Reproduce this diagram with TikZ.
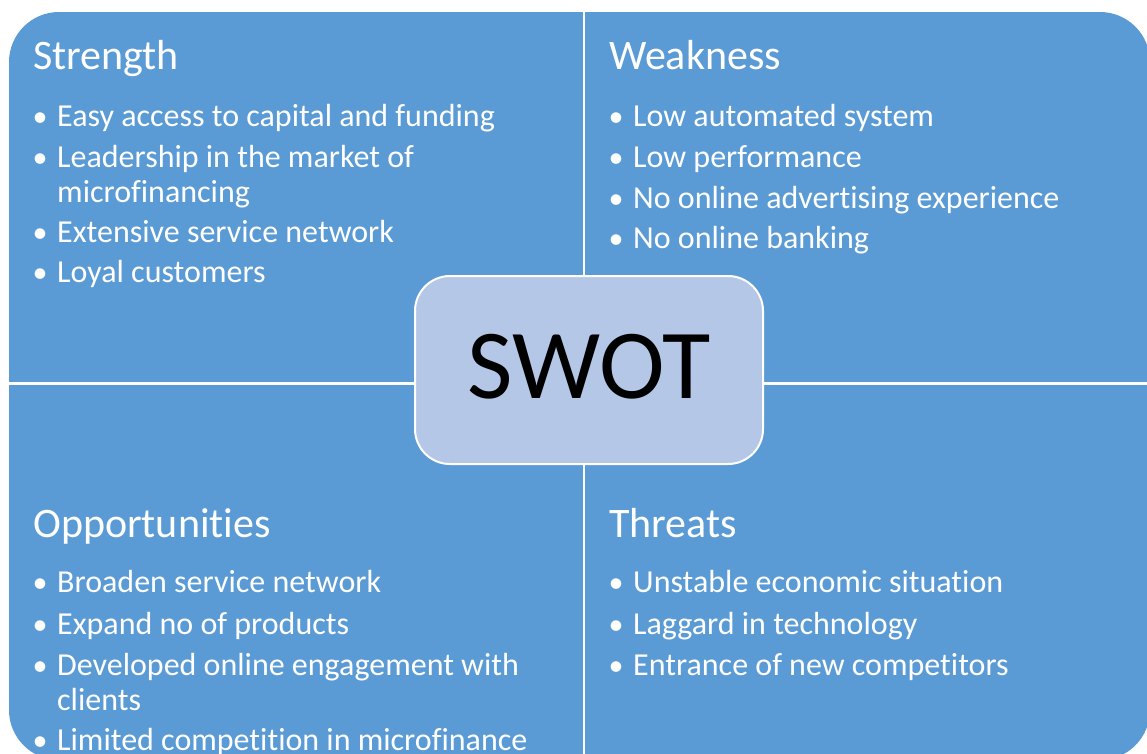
\documentclass[tikz,border=0pt]{standalone}
\usepackage{fontspec}
\setmainfont{Carlito}[Ligatures={NoCommon}]
\definecolor{quadblue}{HTML}{5B9BD5}
\definecolor{hubfill}{HTML}{B4C7E7}
\begin{document}
\begin{tikzpicture}[x=1pt,y=-1pt,
  heading/.style={anchor=base west, inner sep=0pt, text=white, font=\fontsize{42}{50}\selectfont},
  item/.style={anchor=base west, inner sep=0pt, text=white, font=\fontsize{32}{38}\selectfont},
  dot/.style={anchor=base, inner sep=0pt, text=white, font=\fontsize{30}{36}\selectfont},
  hubbox/.style={rectangle, rounded corners=35pt, fill=hubfill, draw=white, line width=2pt,
    minimum width=348pt, minimum height=188pt, inner sep=0pt},
  hubtext/.style={anchor=base, inner sep=0pt, text=black, font=\fontsize{99}{115}\selectfont},
  divider/.style={white, line width=2.5pt}]
\useasboundingbox (0,0) rectangle (1147,753);
\clip (0,0) rectangle (1147,753);

% four quadrants: one rounded block split by white dividers
\fill[quadblue, rounded corners=50pt] (9,12) rectangle (1150,760);
\coordinate (vtop) at (584,0);
\coordinate (vbot) at (584,760);
\coordinate (hleft) at (0,383.5);
\coordinate (hright) at (1150,383.5);
\draw[divider] (vtop) -- (vbot);
\draw[divider] (hleft) -- (hright);

% Strength
\node[heading] (sH) at (33,69) {Strength};
\node[dot] (sd1) at (40,126) {•};
\node[item] (s1) at (57,126) {Easy access to capital and funding};
\node[dot] (sd2) at (40,167) {•};
\node[item] (s2) at (57,167) {Leadership in the market of};
\node[item] (s2b) at (57,202) {microfinancing};
\node[dot] (sd3) at (40,242) {•};
\node[item] (s3) at (57,242) {Extensive service network};
\node[dot] (sd4) at (40,282) {•};
\node[item] (s4) at (57,282) {Loyal customers};

% Weakness
\node[heading] (wH) at (609,69) {Weakness};
\node[dot] (wd1) at (616,126) {•};
\node[item] (w1) at (633,126) {Low automated system};
\node[dot] (wd2) at (616,167) {•};
\node[item] (w2) at (633,167) {Low performance};
\node[dot] (wd3) at (616,208) {•};
\node[item] (w3) at (633,208) {No online advertising experience};
\node[dot] (wd4) at (616,248) {•};
\node[item] (w4) at (633,248) {No online banking};

% Opportunities
\node[heading] (oH) at (33,537) {Opportunities};
\node[dot] (od1) at (40,592) {•};
\node[item] (o1) at (57,592) {Broaden service network};
\node[dot] (od2) at (40,634) {•};
\node[item] (o2) at (57,634) {Expand no of products};
\node[dot] (od3) at (40,675) {•};
\node[item] (o3) at (57,675) {Developed online engagement with};
\node[item] (o3b) at (57,710) {clients};
\node[dot] (od4) at (40,750) {•};
\node[item] (o4) at (57,750) {Limited competition in microfinance};

% Threats
\node[heading] (tH) at (609,537) {Threats};
\node[dot] (td1) at (616,592) {•};
\node[item] (t1) at (633,592) {Unstable economic situation};
\node[dot] (td2) at (616,634) {•};
\node[item] (t2) at (633,634) {Laggard in technology};
\node[dot] (td3) at (616,675) {•};
\node[item] (t3) at (633,675) {Entrance of new competitors};

% centre hub
\node[hubbox] (hub) at (589,370) {};
\node[hubtext] (hubLabel) at (589,398) {SWOT};
\end{tikzpicture}
\end{document}
